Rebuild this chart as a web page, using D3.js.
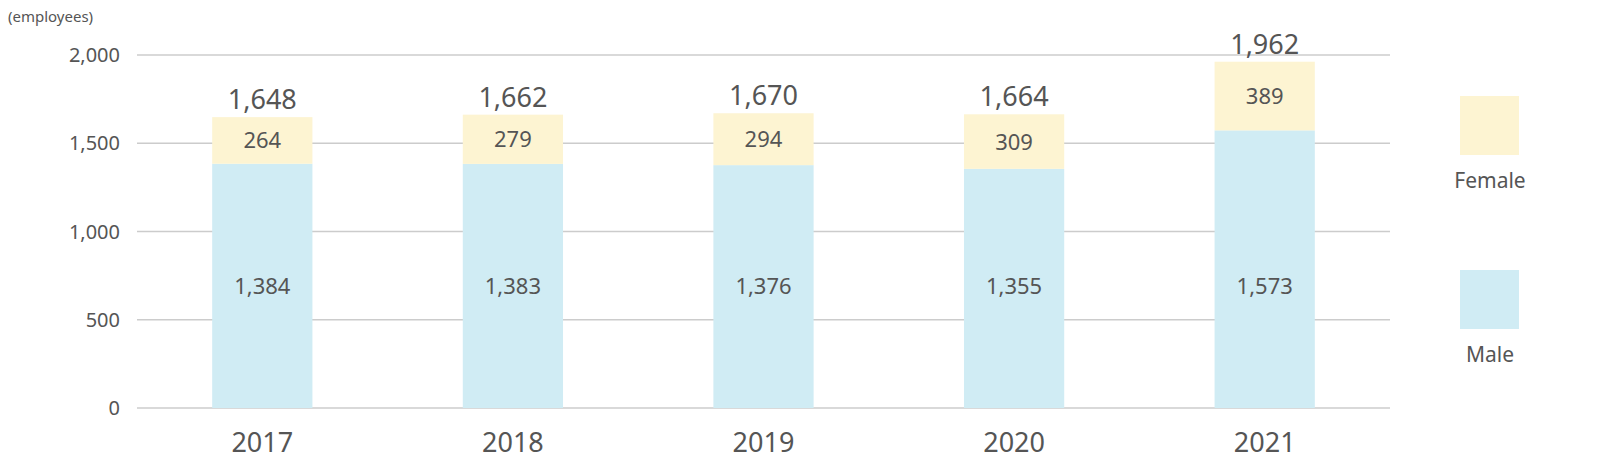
<!DOCTYPE html>
<html><head><meta charset="utf-8">
<script src="https://cdn.jsdelivr.net/npm/d3@7"></script>
<style>body{margin:0;background:#fff}text{font-family:"Noto Sans",sans-serif;fill:#555}</style>
</head><body><svg id="c" width="1600" height="470"></svg>
<script>
const years=["2017","2018","2019","2020","2021"];
const male=[1384,1383,1376,1355,1573];
const female=[264,279,294,309,389];
const totals=[1648,1662,1670,1664,1962];
const yTicks=[0,500,1000,1500,2000];
const svg=d3.select("#c");
const x=d3.scaleBand().domain(years).range([137,1390]).paddingInner(0.6).paddingOuter(0.3);
const y=d3.scaleLinear().domain([0,2000]).range([408,55]);
const fmt=d3.format(",");
svg.selectAll("line.g").data(yTicks).join("line").attr("x1",137).attr("x2",1390)
 .attr("y1",d=>y(d)).attr("y2",d=>y(d)).attr("stroke","#ccc").attr("stroke-width",1.5);
svg.selectAll("text.yt").data(yTicks).join("text").attr("x",120).attr("y",d=>y(d)+7)
 .attr("text-anchor","end").attr("font-size",20).text(fmt);
svg.append("text").attr("x",8).attr("y",22).attr("font-size",15).text("(employees)");
svg.selectAll("rect.m").data(years).join("rect").attr("x",d=>x(d)).attr("width",x.bandwidth())
 .attr("y",(d,i)=>y(male[i])).attr("height",(d,i)=>y(0)-y(male[i])).attr("fill","#d0ecf4");
svg.selectAll("rect.f").data(years).join("rect").attr("x",d=>x(d)).attr("width",x.bandwidth())
 .attr("y",(d,i)=>y(male[i]+female[i])).attr("height",(d,i)=>y(male[i])-y(male[i]+female[i])).attr("fill","#fdf4d2");
const cx=d=>x(d)+x.bandwidth()/2;
svg.selectAll("text.ml").data(years).join("text").attr("x",cx).attr("y",294).attr("text-anchor","middle")
 .attr("font-size",22).text((d,i)=>fmt(male[i]));
svg.selectAll("text.fl").data(years).join("text").attr("x",cx).attr("y",(d,i)=>y(male[i]+female[i]/2)+8).attr("text-anchor","middle")
 .attr("font-size",22).text((d,i)=>fmt(female[i]));
svg.selectAll("text.tl").data(years).join("text").attr("x",cx).attr("y",(d,i)=>y(totals[i])-8).attr("text-anchor","middle")
 .attr("font-size",27).text((d,i)=>fmt(totals[i]));
svg.selectAll("text.xl").data(years).join("text").attr("x",cx).attr("y",452).attr("text-anchor","middle")
 .attr("font-size",27).text(d=>d);
const leg=[["Female","#fdf4d2",96],["Male","#d0ecf4",270]];
leg.forEach(([n,c,t])=>{svg.append("rect").attr("x",1460).attr("y",t).attr("width",59).attr("height",59).attr("fill",c);
 svg.append("text").attr("x",1490).attr("y",t+92).attr("text-anchor","middle").attr("font-size",21).text(n);});
</script></body></html>
